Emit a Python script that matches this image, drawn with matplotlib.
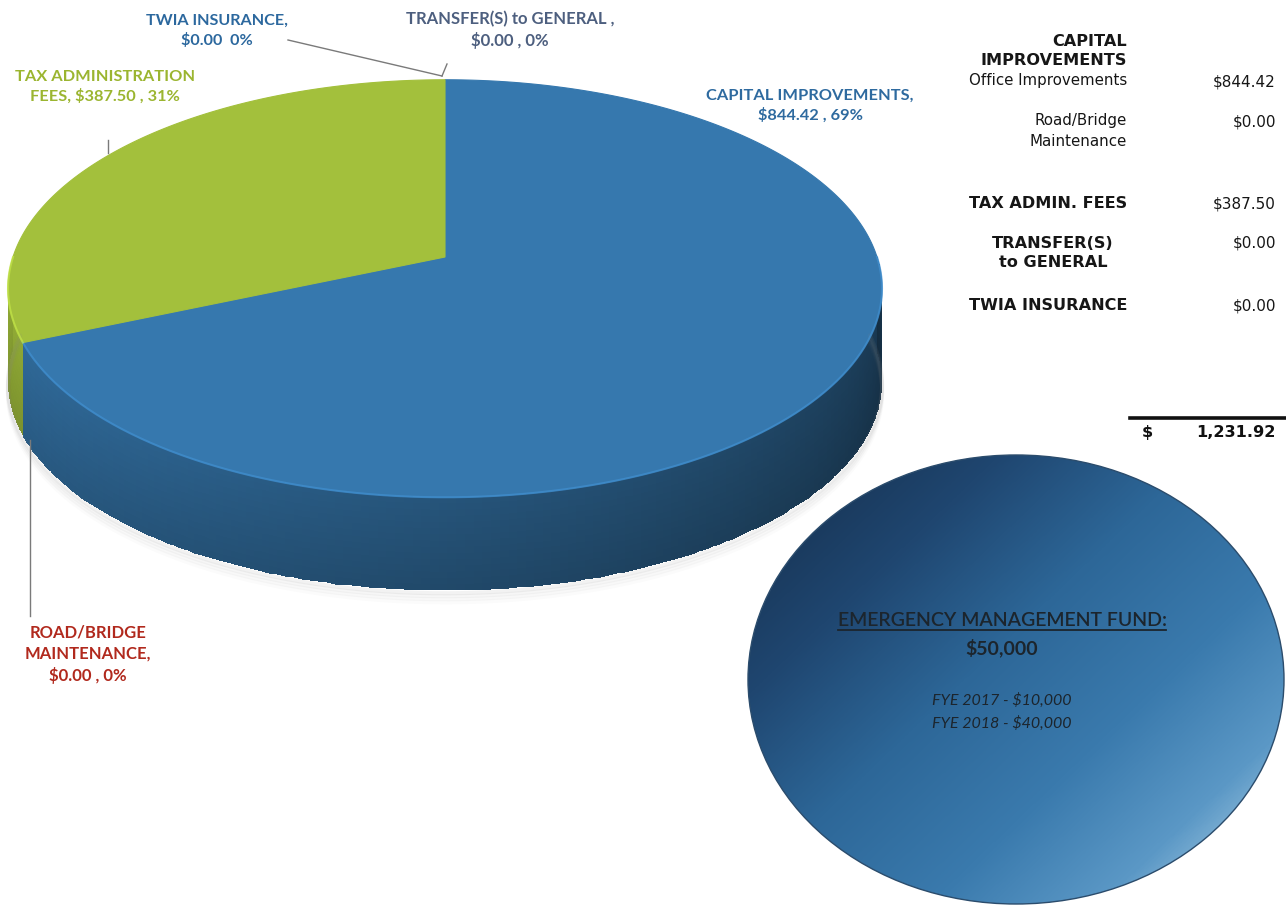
import numpy as np
import matplotlib
matplotlib.use("Agg")
import matplotlib.pyplot as plt
from matplotlib.patches import Polygon, Ellipse
from matplotlib.colors import to_rgb, LinearSegmentedColormap

# fund breakdown (clockwise from 12 o'clock)
categories = ['CAPITAL IMPROVEMENTS', 'ROAD/BRIDGE MAINTENANCE', 'TAX ADMINISTRATION FEES',
              'TRANSFER(S) to GENERAL', 'TWIA INSURANCE']
values = [844.42, 0.00, 387.50, 0.00, 0.00]
slice_colors = ['#3678ae', '#b1291d', '#a3c03c', '#4d5f7f', '#2f6aa0']
label_fmt = ['CAPITAL IMPROVEMENTS,\n${v:,.2f} , {p:.0f}%',
             'ROAD/BRIDGE\nMAINTENANCE,\n${v:,.2f} , {p:.0f}%',
             'TAX ADMINISTRATION\nFEES, ${v:,.2f} , {p:.0f}%',
             'TRANSFER(S) to GENERAL ,\n${v:,.2f} , {p:.0f}%',
             'TWIA INSURANCE,\n${v:,.2f}  {p:.0f}%']
label_colors = ['#2e6a9f', '#b1291d', '#9bb530', '#4d5f7f', '#2c689e']
label_xy = [(810, 106), (88, 654), (105, 87), (510, 30), (217, 31)]
label_size = [11.8, 12, 11.8, 12, 11.6]

# summary table on the right
table_rows = [('CAPITAL\nIMPROVEMENTS', None, 'bold', 'right', 51),
              ('Office Improvements', 844.42, 'normal', 'right', 81),
              ('Road/Bridge\nMaintenance', 0.00, 'normal', 'right', 131),
              ('TAX ADMIN. FEES', 387.50, 'bold', 'right', 203),
              ('TRANSFER(S)\nto GENERAL', 0.00, 'bold', 'center', 253),
              ('TWIA INSURANCE', 0.00, 'bold', 'right', 305)]
value_y = [None, 82, 122, 204, 243, 306]

fund_title = 'EMERGENCY MANAGEMENT FUND:'
fund_total = 50000
fund_years = ['FYE 2017', 'FYE 2018']
fund_amounts = [10000, 40000]

total = sum(values)

fig = plt.figure(figsize=(12.86, 9.05), dpi=100)
ax = fig.add_axes([0, 0, 1, 1])
ax.set_xlim(0, 1286)
ax.set_ylim(905, 0)
ax.axis('off')

# pie geometry (pixels), simple perspective on the disc
cx, cy, a, b, k, depth = 445, 257, 432, 204, 0.151, 93


def proj(th, h=0.0):
    t = np.radians(th)
    w = 1 + k * np.sin(t)
    return cx + a * np.cos(t) / w, cy - b * np.sin(t) / w + depth * h


def shade(rgb, f):
    return np.clip(np.array(rgb) * f, 0, 1)


# soft shadow under the front edge
for i, al in enumerate([0.10, 0.07, 0.05, 0.03]):
    th = np.linspace(-185, 5, 200)
    x, y = proj(th, 1.0)
    ax.plot(x, y + 3 + 3 * i, color='#888888', lw=3, alpha=al, solid_capstyle='round')

# slice angles
fr = np.array(values) / total
ends = 90 - 360 * np.cumsum(fr)
starts = np.concatenate([[90], ends[:-1]])

# side wall, only front half is visible
for s, e, v, c in zip(starts, ends, values, slice_colors):
    if v <= 0:
        continue
    lo, hi = max(e, -180), min(s, 0)
    if hi <= lo:
        continue
    th = np.linspace(lo, hi, 160)
    hh = np.linspace(0, 1, 16)
    T, H = np.meshgrid(th, hh)
    X, Y = proj(T, H)
    tc = (T[:-1, :-1] + T[1:, 1:]) / 2
    hc = (H[:-1, :-1] + H[1:, 1:]) / 2
    u = (tc + 180) / 180
    f = (0.92 - 0.5 * u ** 1.2) * (1.0 - 0.14 * hc)
    C = np.clip(np.array(to_rgb(c))[None, None, :] * f[..., None], 0, 1)
    ax.pcolormesh(X, Y, C, shading='flat', antialiased=False, linewidth=0)

# top face
for s, e, v, c in zip(starts, ends, values, slice_colors):
    if v <= 0:
        continue
    th = np.linspace(s, e, 300)
    x, y = proj(th)
    pts = np.column_stack([np.r_[cx, x], np.r_[cy, y]])
    ax.add_patch(Polygon(pts, closed=True, facecolor=c, edgecolor=c, lw=0.8))
    # light rim along the front edge
    lo, hi = max(e, -180), min(s, 0)
    if hi > lo:
        th = np.linspace(lo, hi, 200)
        x, y = proj(th)
        ax.plot(x, y, color=shade(to_rgb(c), 1.2), lw=1.5, alpha=0.7)

# leader lines
lc = '#7a7a7a'
ax.plot([288, 442], [40, 76], color=lc, lw=1)
ax.plot([442, 447], [76, 64], color=lc, lw=1)
ax.plot([108, 108], [140, 153], color=lc, lw=1)
ax.plot([30, 30], [440, 616], color=lc, lw=1)

# slice labels
for fmt, v, col, (lx, ly), fs in zip(label_fmt, values, label_colors, label_xy, label_size):
    ax.text(lx, ly, fmt.format(v=v, p=100 * v / total), color=col, fontsize=fs,
            family='Lato', weight='bold', ha='center', va='center', linespacing=1.4)

# table
for (lab, val, wt, al, ly), vy in zip(table_rows, value_y):
    tx = 1127 if al == 'right' else 1053
    ax.text(tx, ly, lab, fontsize=11.6 if wt == 'bold' else 10.8, weight=wt,
            family='DejaVu Sans', ha=al, va='center', color='#161616',
            linespacing=1.45 if wt == 'normal' else 1.3)
    if val is not None:
        ax.text(1276, vy, f'${val:,.2f}', fontsize=11, family='DejaVu Sans',
                ha='right', va='center', color='#161616')
ax.plot([1130, 1285], [418, 418], color='#111111', lw=2.6)
ax.text(1147, 432, '$', fontsize=11.6, weight='bold', ha='center', va='center', color='#111111')
ax.text(1276, 432, f'{total:,.2f}', fontsize=11.6, weight='bold', ha='right',
        va='center', color='#111111')

# emergency fund disc with gradient fill
ex0, ex1, ey0, ey1 = 748, 1284, 455, 904
gx, gy = np.meshgrid(np.linspace(ex0, ex1, 400), np.linspace(ey0, ey1, 340))
sdir = np.array([1.0, 1.05])
sdir /= np.linalg.norm(sdir)
sv = (gx - ex0) * sdir[0] + (gy - ey0) * sdir[1]
sv = (sv - sv.min()) / (sv.max() - sv.min())
cmap = LinearSegmentedColormap.from_list('fund', [
    (0.0, '#142c48'), (0.25, '#1f4670'), (0.45, '#2d6798'),
    (0.65, '#3a7aad'), (0.82, '#5b98c6'), (0.93, '#a2c9e2'), (1.0, '#d0e6f2')])
disc = Ellipse(((ex0 + ex1) / 2, (ey0 + ey1) / 2), ex1 - ex0, ey1 - ey0,
               facecolor='none', edgecolor='#2b4c6c', lw=1.0)
ax.add_patch(disc)
im = ax.imshow(sv, cmap=cmap, extent=(ex0, ex1, ey1, ey0), origin='upper',
               aspect='auto', interpolation='bilinear')
im.set_clip_path(disc)
ax.set_xlim(0, 1286)
ax.set_ylim(905, 0)

tcol = '#1c252d'
ax.text(1002, 620, fund_title, fontsize=14, family='Lato', ha='center', va='center',
        color=tcol, weight='semibold')
ax.plot([838, 1166], [630, 630], color=tcol, lw=1.3)
ax.text(1002, 648, f'${fund_total:,}', fontsize=14, family='Lato', weight='bold',
        ha='center', va='center', color=tcol)
for i, (yr, amt) in enumerate(zip(fund_years, fund_amounts)):
    ax.text(1002, 700 + 23 * i, f'{yr} - ${amt:,}', fontsize=11.5, family='Lato',
            style='italic', ha='center', va='center', color=tcol)

fig.savefig('out.png', dpi=100, facecolor='white')
